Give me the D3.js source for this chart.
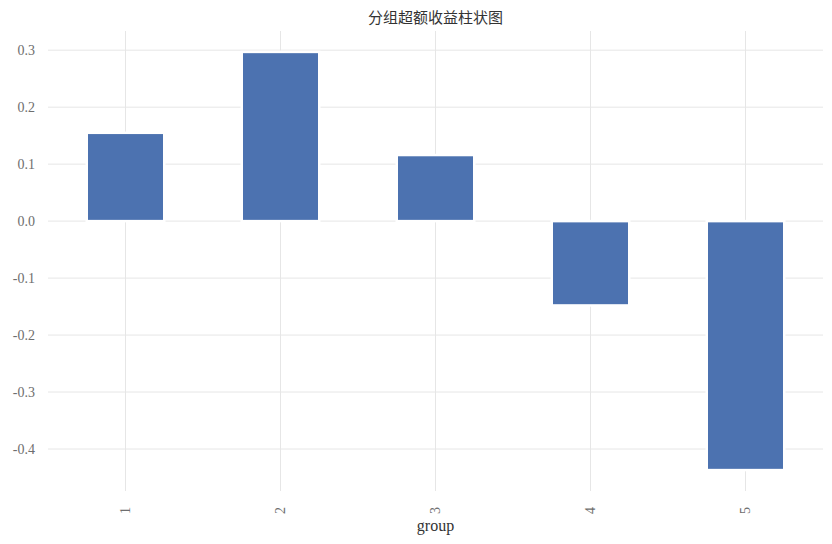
<!DOCTYPE html>
<html>
<head>
<meta charset="utf-8">
<title>分组超额收益柱状图</title>
<script src="https://d3js.org/d3.v7.min.js"></script>
<style>
  body { margin: 0; background: white; }
  .tick text { font-family: "Liberation Serif", "DejaVu Serif", serif; }
</style>
</head>
<body>
<svg id="chart"></svg>
<script>
// chart values
var groups = ["1", "2", "3", "4", "5"];
var excessReturn = [0.155, 0.297, 0.116, -0.148, -0.437];
var yTicks = [-0.4, -0.3, -0.2, -0.1, 0.0, 0.1, 0.2, 0.3];
var chartTitle = "分组超额收益柱状图";
var xLabel = "group";

var W = 832, H = 544;
var plotLeft = 48, plotRight = 823, plotTop = 31, plotBottom = 491;

var svg = d3.select("#chart").attr("width", W).attr("height", H);

// pandas style: bars at 0..n-1, width 0.5, x limits -0.5..n-0.5
var xs = d3.scaleLinear().domain([-0.5, groups.length - 0.5]).range([plotLeft, plotRight]);
var yMin = d3.min(excessReturn), yMax = d3.max(excessReturn);
var pad = (yMax - yMin) * 0.05;
var ys = d3.scaleLinear().domain([yMin - pad, yMax + pad]).range([plotBottom, plotTop]);

// grid
svg.append("g")
  .selectAll("line").data(yTicks).enter().append("line")
  .attr("x1", plotLeft).attr("x2", plotRight)
  .attr("y1", function(d) { return ys(d); })
  .attr("y2", function(d) { return ys(d); })
  .attr("stroke", "#e6e6e6").attr("stroke-width", 1);

svg.append("g")
  .selectAll("line").data(groups).enter().append("line")
  .attr("x1", function(d, i) { return xs(i); })
  .attr("x2", function(d, i) { return xs(i); })
  .attr("y1", plotTop).attr("y2", plotBottom)
  .attr("stroke", "#e6e6e6").attr("stroke-width", 1);

// bars
var bw = xs(0.25) - xs(-0.25);
svg.append("g")
  .selectAll("rect").data(excessReturn).enter().append("rect")
  .attr("x", function(d, i) { return xs(i) - bw / 2; })
  .attr("width", bw)
  .attr("y", function(d) { return ys(Math.max(0, d)); })
  .attr("height", function(d) { return Math.abs(ys(d) - ys(0)); })
  .attr("fill", "#4c72b0")
  .attr("stroke", "white")
  .attr("stroke-width", 2.5);

// y axis (plain hyphen for negatives, like matplotlib here)
var yAxis = svg.append("g")
  .attr("transform", "translate(" + plotLeft + ",0)")
  .call(d3.axisLeft(ys).tickValues(yTicks).tickSize(0).tickPadding(13)
    .tickFormat(function(d) { return d.toFixed(1); }));
yAxis.select(".domain").remove();
yAxis.selectAll("text").attr("fill", "#6e6e6e").style("font-size", "14px");

// x axis
var xAxis = svg.append("g")
  .attr("transform", "translate(0," + plotBottom + ")")
  .call(d3.axisBottom(xs).tickValues(d3.range(groups.length)).tickSize(0)
    .tickFormat(function(d) { return groups[d]; }));
xAxis.select(".domain").remove();
xAxis.selectAll("text")
  .attr("fill", "#6e6e6e").style("font-size", "14px")
  .attr("text-anchor", "end")
  .attr("dy", "0.35em").attr("y", 0)
  .attr("transform", "translate(-1,16) rotate(-90)");

// labels
svg.append("text")
  .attr("x", (plotLeft + plotRight) / 2).attr("y", 531)
  .attr("text-anchor", "middle")
  .style("font-family", "'Liberation Serif', 'DejaVu Serif', serif")
  .style("font-size", "16px").attr("fill", "#333")
  .text(xLabel);

svg.append("text")
  .attr("x", (plotLeft + plotRight) / 2).attr("y", 23)
  .attr("text-anchor", "middle")
  .style("font-family", "'Noto Sans CJK SC', sans-serif")
  .style("font-size", "15px").attr("fill", "#333")
  .text(chartTitle);
</script>
</body>
</html>
